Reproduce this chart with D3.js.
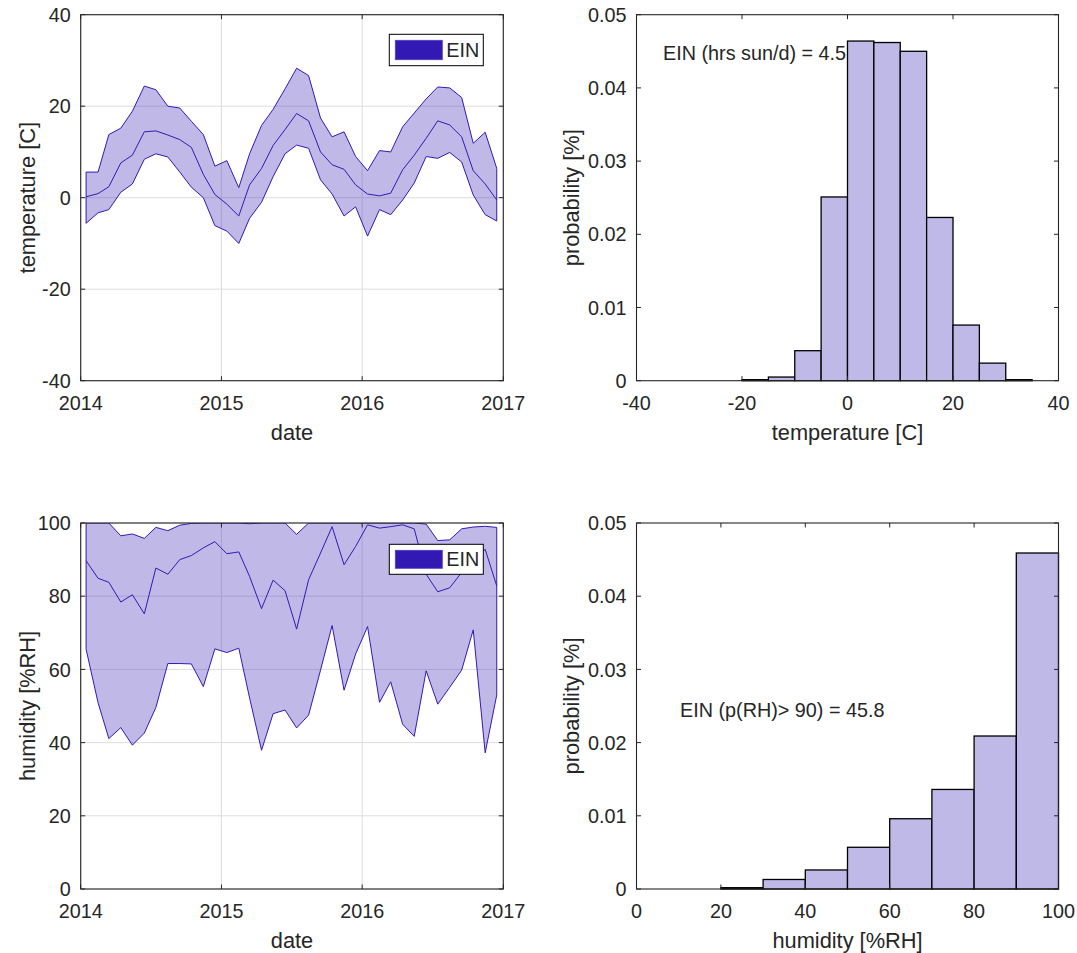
<!DOCTYPE html>
<html>
<head>
<meta charset="utf-8">
<script src="https://cdn.jsdelivr.net/npm/d3@7"></script>
<style>
  html, body { margin: 0; padding: 0; background: #fff; }
  svg { display: block; }
  text { font-family: "Liberation Sans", Arial, Helvetica, sans-serif; fill: #262626; }
</style>
</head>
<body>
<svg id="chart" width="1077" height="953"></svg>
<script>
// ---------------- DATA ----------------
const months = ["2014-01-15","2014-02-15","2014-03-15","2014-04-15","2014-05-15","2014-06-15",
  "2014-07-15","2014-08-15","2014-09-15","2014-10-15","2014-11-15","2014-12-15",
  "2015-01-15","2015-02-15","2015-03-15","2015-04-15","2015-05-15","2015-06-15",
  "2015-07-15","2015-08-15","2015-09-15","2015-10-15","2015-11-15","2015-12-15",
  "2016-01-15","2016-02-15","2016-03-15","2016-04-15","2016-05-15","2016-06-15",
  "2016-07-15","2016-08-15","2016-09-15","2016-10-15","2016-11-15","2016-12-15"];

const tempMax  = [5.6,5.6,13.8,15.2,18.9,24.4,23.6,20.0,19.6,16.7,13.8,6.9,8.1,2.2,9.6,15.8,19.3,23.8,28.3,26.7,17.4,13.3,14.4,9.0,5.9,10.3,10.0,15.5,18.5,21.6,24.2,24.0,21.9,11.9,14.3,6.4];
const tempMean = [0.2,0.9,2.4,7.6,9.3,14.4,14.6,13.7,12.7,11.0,5.1,0.7,-1.4,-4.0,2.8,6.4,11.4,14.9,18.4,16.8,10.0,7.2,6.2,2.8,0.8,0.4,1.0,6.1,9.3,13.0,16.8,15.9,13.3,5.9,3.0,-0.5];
const tempMin  = [-5.6,-3.3,-2.6,1.2,3.0,8.4,9.6,8.9,5.6,2.3,0.0,-6.1,-7.3,-10.0,-4.5,-1.0,4.6,9.6,11.5,10.8,3.9,0.8,-4.0,-2.0,-8.4,-2.6,-3.7,-0.5,3.2,9.0,8.6,9.9,7.8,0.6,-3.7,-5.1];

const rhMax  = [100,100,100,96.5,97.0,95.8,98.8,97.9,99.4,99.9,100,100,100,100,99.8,100,100,100,96.9,100,100,100,100,100,100,100,100,100,100,99.7,95.2,95.4,98.4,98.9,99.1,98.8];
const rhMean = [89.7,84.9,83.8,78.4,80.4,75.2,87.7,86.0,90.0,91.1,93.2,94.9,91.6,92.1,85.4,76.6,84.4,81.5,71.0,84.5,91.8,99.0,88.6,93.6,99.5,98.6,99.0,99.5,98.4,86.0,81.2,82.3,86.5,90.0,92.8,82.8];
const rhMin  = [65.5,50.9,41.1,44.1,39.3,42.6,49.6,61.6,61.6,61.5,55.3,65.6,64.6,65.8,52.2,37.9,47.9,48.9,44.0,47.5,59.8,72.0,54.3,64.2,71.7,51.0,56.6,45.0,41.7,59.6,50.5,55.1,59.8,70.8,37.2,53.0];

const tempBinEdges = [-25,-20,-15,-10,-5,0,5,10,15,20,25,30,35];
const tempProb     = [0,0.00014,0.0005,0.0041,0.0251,0.0464,0.0462,0.0450,0.0223,0.0076,0.0024,0.00014];

const rhBinEdges = [0,10,20,30,40,50,60,70,80,90,100];
const rhProb     = [0,0,0.00018,0.0013,0.0026,0.0057,0.0096,0.0136,0.0209,0.0459];

const yearTicks   = ["2014-01-01","2015-01-01","2016-01-01","2017-01-01"];
const tempTicks   = [-40,-20,0,20,40];
const rhTicks     = [0,20,40,60,80,100];
const probTicks   = [0,0.01,0.02,0.03,0.04,0.05];
const tempHTicks  = [-40,-20,0,20,40];
const rhHTicks    = [0,20,40,60,80,100];

const legendLabel = "EIN";
const tempNote = "EIN (hrs sun/d) = 4.5";
const rhNote   = "EIN (p(RH)> 90) = 45.8";

// ---------------- STYLE ----------------
const AXIS = "#262626";
const GRID = "#dedede";
const EDGE = "rgb(51,25,179)";
const FILL_ALPHA = 0.31;
const BAR_FILL = "rgb(191,185,232)";
const TICK_FS = 19.8;
const LABEL_FS = 21.8;
const TICK_LEN = 4.5;

const svg = d3.select("#chart");
const parse = d3.timeParse("%Y-%m-%d");
const dates = months.map(parse);
const yearDates = yearTicks.map(parse);

function grid(g, x, y, w, h, xScale, yScale, xTicks, yTicks) {
  g.append("g").selectAll("line").data(xTicks).join("line")
    .attr("x1", d => xScale(d)).attr("x2", d => xScale(d))
    .attr("y1", y).attr("y2", y + h)
    .attr("stroke", GRID).attr("stroke-width", 1);
  g.append("g").selectAll("line").data(yTicks).join("line")
    .attr("x1", x).attr("x2", x + w)
    .attr("y1", d => yScale(d)).attr("y2", d => yScale(d))
    .attr("stroke", GRID).attr("stroke-width", 1);
}

function axesOverlay(g, x, y, w, h, xScale, yScale, xTicks, yTicks, xFmt, yFmt) {
  const ov = g.append("g");
  xTicks.forEach(t => {
    const px = xScale(t);
    ov.append("line").attr("x1", px).attr("x2", px).attr("y1", y + h).attr("y2", y + h - TICK_LEN).attr("stroke", AXIS);
    ov.append("line").attr("x1", px).attr("x2", px).attr("y1", y).attr("y2", y + TICK_LEN).attr("stroke", AXIS);
    ov.append("text").attr("x", px).attr("y", y + h + 29).attr("text-anchor", "middle")
      .attr("font-size", TICK_FS).text(xFmt(t));
  });
  yTicks.forEach(t => {
    const py = yScale(t);
    ov.append("line").attr("x1", x).attr("x2", x + TICK_LEN).attr("y1", py).attr("y2", py).attr("stroke", AXIS);
    ov.append("line").attr("x1", x + w).attr("x2", x + w - TICK_LEN).attr("y1", py).attr("y2", py).attr("stroke", AXIS);
    ov.append("text").attr("x", x - 10).attr("y", py).attr("dy", "0.36em").attr("text-anchor", "end")
      .attr("font-size", TICK_FS).text(yFmt(t));
  });
  ov.append("rect").attr("x", x).attr("y", y).attr("width", w).attr("height", h)
    .attr("fill", "none").attr("stroke", AXIS).attr("stroke-width", 1.1);
}

function labels(g, x, y, w, h, xl, yl, ylx) {
  g.append("text").attr("x", x + w / 2).attr("y", y + h + 59).attr("text-anchor", "middle")
    .attr("font-size", LABEL_FS).text(xl);
  g.append("text").attr("transform", `translate(${ylx},${y + h / 2}) rotate(-90)`)
    .attr("text-anchor", "middle").attr("font-size", LABEL_FS).text(yl);
}

function legend(g, lx, ly, lh) {
  const lg = g.append("g");
  lg.append("rect").attr("x", lx).attr("y", ly).attr("width", 94).attr("height", lh)
    .attr("fill", "#fff").attr("stroke", "#000").attr("stroke-width", 1);
  lg.append("rect").attr("x", lx + 6).attr("y", ly + 6).attr("width", 47).attr("height", lh - 12)
    .attr("fill", EDGE).attr("stroke", "rgb(80,60,200)").attr("stroke-width", 0.8);
  lg.append("text").attr("x", lx + 57).attr("y", ly + lh / 2).attr("dy", "0.36em")
    .attr("font-size", TICK_FS).attr("fill", "#000").text(legendLabel);
}

let clipId = 0;
function bandPanel(y0, upper, mean, lower, yDomain, yTicks, ylab, legendY, legendH) {
  const x = 80.7, w = 422.6, y = y0, h = 366;
  const xs = d3.scaleTime().domain([yearDates[0], yearDates[yearDates.length - 1]]).range([x, x + w]);
  const ys = d3.scaleLinear().domain(yDomain).range([y + h, y]);
  const g = svg.append("g");
  grid(g, x, y, w, h, xs, ys, yearDates, yTicks);
  const id = "clip" + (clipId++);
  svg.append("clipPath").attr("id", id).append("rect").attr("x", x).attr("y", y).attr("width", w).attr("height", h);
  const pg = g.append("g").attr("clip-path", `url(#${id})`);
  const pts = dates.map((d, i) => [xs(d), ys(upper[i])])
    .concat(dates.map((d, i) => [xs(d), ys(lower[i])]).reverse());
  pg.append("path").attr("d", "M" + pts.map(p => p.join(",")).join("L") + "Z")
    .attr("fill", EDGE).attr("fill-opacity", FILL_ALPHA)
    .attr("stroke", EDGE).attr("stroke-width", 1).attr("stroke-linejoin", "miter");
  pg.append("path").datum(mean)
    .attr("d", d3.line().x((d, i) => xs(dates[i])).y(d => ys(d)))
    .attr("fill", "none").attr("stroke", EDGE).attr("stroke-width", 1);
  axesOverlay(g, x, y, w, h, xs, ys, yearDates, yTicks, d3.timeFormat("%Y"), d => String(d));
  labels(g, x, y, w, h, "date", ylab, 35);
  legend(g, 389.3, legendY, legendH);
}

function histPanel(y0, edges, probs, xDomain, xTicks, xlab, note, noteX, noteY) {
  const x = 636.5, w = 422, y = y0, h = 366;
  const xs = d3.scaleLinear().domain(xDomain).range([x, x + w]);
  const ys = d3.scaleLinear().domain([0, 0.05]).range([y + h, y]);
  const g = svg.append("g");
  const bins = probs.map((p, i) => ({ x0: edges[i], x1: edges[i + 1], p }));
  g.append("g").selectAll("rect").data(bins).join("rect")
    .attr("x", d => xs(d.x0)).attr("width", d => xs(d.x1) - xs(d.x0))
    .attr("y", d => ys(d.p)).attr("height", d => ys(0) - ys(d.p))
    .attr("fill", BAR_FILL).attr("stroke", "#000").attr("stroke-width", 1.3);
  axesOverlay(g, x, y, w, h, xs, ys, xTicks, probTicks, d => String(d), d => d === 0 ? "0" : d.toFixed(2));
  labels(g, x, y, w, h, xlab, "probability [%]", 579);
  g.append("text").attr("x", noteX).attr("y", noteY).attr("font-size", TICK_FS).attr("fill", "#000").text(note);
}

bandPanel(14.7, tempMax, tempMean, tempMin, [-40, 40], tempTicks, "temperature [C]", 34.3, 31.4);
bandPanel(523, rhMax, rhMean, rhMin, [0, 100], rhTicks, "humidity [%RH]", 544.3, 30);
histPanel(14.7, tempBinEdges, tempProb, [-40, 40], tempHTicks, "temperature [C]", tempNote, 663, 60);
histPanel(523, rhBinEdges, rhProb, [0, 100], rhHTicks, "humidity [%RH]", rhNote, 680, 717);
</script>
</body>
</html>
